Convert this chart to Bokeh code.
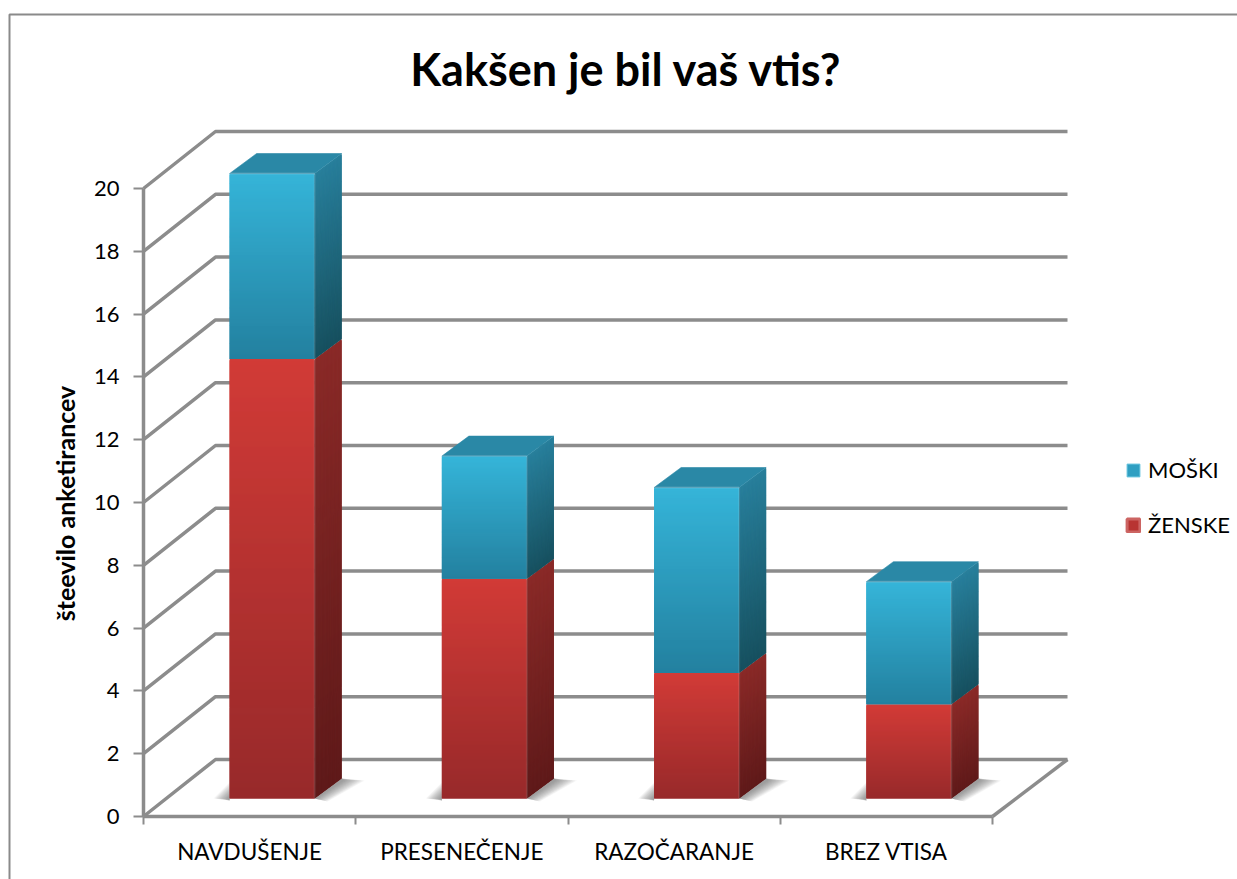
import numpy as np
from bokeh.core.properties import value
from bokeh.embed import file_html
from bokeh.resources import INLINE
from bokeh.plotting import figure
from bokeh.models import FixedTicker, Legend, LegendItem, ColumnDataSource

# ---- data
categories = ["NAVDUŠENJE", "PRESENEČENJE", "RAZOČARANJE", "BREZ VTISA"]
zenske = [14, 7, 4, 3]
moski = [6, 4, 6, 4]
y_ticks = list(range(0, 21, 2))
title_text = "Kakšen je bil vaš vtis?"
y_title = "šteevilo anketirancev"

# ---- layout / 3-D style constants
W, H = 1237, 879
X0, Y0 = 143, 816      # pixel of the data origin
PX_X = 212.25          # px per category
PX_Y = 31.4            # px per unit
def dx(px): return px / PX_X
def dy(px): return px / PX_Y
def fx(px): return (px - X0) / PX_X
def fy(px): return (Y0 - px) / PX_Y

WALL_DX, WALL_DY = dx(72), dy(57)
WALL_END = dx(924)
BAR_W = dx(85)
BAR_SHIFT = dx(22.5)
BAR_BASE = dy(18)
TOP_INSET = dy(3)      # the bevelled top sits slightly below the nominal height
SIDE_DX, SIDE_DY = dx(27), dy(20)
GRID = "#8c8c8c"
FONT = "Lato"

def ramp(c0, c1, n):
    a, b = np.array(c0), np.array(c1)
    return ["#%02x%02x%02x" % tuple(int(round(v)) for v in a + (b - a) * t) for t in np.linspace(0, 1, n)]

BLUE_F = ((53, 180, 216), (35, 128, 159))
RED_F = ((209, 59, 55), (151, 41, 42))
BLUE_S = ((40, 127, 155), (23, 80, 95))
RED_S = ((138, 42, 40), (95, 26, 26))
BLUE_T = "#2a88a6"

p = figure(width=W, height=H, output_backend="svg", toolbar_location=None,
           x_range=(fx(0), fx(W)), y_range=(fy(H), fy(0)),
           min_border=0, background_fill_color="white", border_fill_color="white")
p.outline_line_color = None
p.grid.visible = False

xax, yax = p.xaxis[0], p.yaxis[0]
xax.fixed_location = 0
yax.fixed_location = 0
xax.bounds = (0, 4)
yax.bounds = (0, 20)
xax.ticker = FixedTicker(ticks=[i + 0.5 for i in range(4)], minor_ticks=list(range(5)))
xax.major_label_overrides = {i + 0.5: c for i, c in enumerate(categories)}
xax.major_tick_line_color = None
xax.minor_tick_line_color = GRID
xax.minor_tick_line_width = 2
xax.minor_tick_out = 8
xax.minor_tick_in = 0
yax.ticker = FixedTicker(ticks=y_ticks)
yax.minor_tick_line_color = None
yax.major_tick_line_color = GRID
yax.major_tick_line_width = 2
yax.major_tick_out = 10
yax.major_tick_in = 0
for ax in (xax, yax):
    ax.axis_line_color = GRID
    ax.axis_line_width = 3.5
    ax.major_label_text_font = FONT
    ax.major_label_text_color = "#000000"
xax.major_label_text_font_size = "22.5px"
yax.major_label_text_font_size = "22px"
xax.major_label_standoff = 13
yax.major_label_standoff = 14

# chart border (only top and left fall inside the window)
p.line([fx(9), fx(9), fx(W)], [fy(H), fy(14), fy(14)], line_color="#8a8a8a", line_width=2)

# title and y-axis title
p.text([fx(626)], [fy(68)], text=[title_text], text_font=value(FONT), text_font_size="45px",
       text_font_style="bold", text_color="#000000", text_align="center", text_baseline="alphabetic")
p.text([fx(64)], [fy(503)], text=[y_title], text_font=value(FONT), text_font_size="25px", angle=np.pi / 2,
       text_font_style="bold", text_color="#000000", text_align="center", text_baseline="alphabetic")

# back wall + side wall gridlines
xs, ys = [], []
for v in y_ticks:
    xs.append([0, WALL_DX, WALL_END])
    ys.append([v, v + WALL_DY, v + WALL_DY])
p.multi_line(xs, ys, line_color=GRID, line_width=3.5)
p.line([4, WALL_END], [0, WALL_DY], line_color=GRID, line_width=3.5)

# floor shadows: many faint layers give a soft edge
for g in np.linspace(1.0, 0.1, 14):
    sx, sy = [], []
    for i in range(4):
        c = i + 0.5 + BAR_SHIFT
        l, r = c - BAR_W / 2, c + BAR_W / 2
        sx.append([r, r + SIDE_DX, r + SIDE_DX + dx(23) * g, r + dx(13) * g])
        sy.append([BAR_BASE, BAR_BASE + SIDE_DY, BAR_BASE + SIDE_DY - dy(2), BAR_BASE - dy(3) * g])
        sx.append([l, l - dx(16) * g, l])
        sy.append([BAR_BASE + dy(16) * g, BAR_BASE, BAR_BASE - dy(2)])
    p.patches(sx, sy, fill_color="#4a4a4a", fill_alpha=0.05, line_color=None)

# bars: stacked, front + side faces built as gradient slices, top cap
for i in range(4):
    c = i + 0.5 + BAR_SHIFT
    l, r = c - BAR_W / 2, c + BAR_W / 2
    segments = ((0, zenske[i], RED_F, RED_S, 0), (zenske[i], zenske[i] + moski[i], BLUE_F, BLUE_S, TOP_INSET))
    for lo, hi, fc, sc, inset in segments:
        N = int((hi - lo) * PX_Y)
        edges = np.linspace(hi - inset, lo, N + 1) + BAR_BASE
        low = np.maximum(edges[1:] - dy(1.5), lo + BAR_BASE)
        cf = ramp(fc[0], fc[1], N)
        cs = ramp(sc[0], sc[1], N)
        # drawn bottom-up so that every slice overlaps the one below it
        p.quad(left=[l] * N, right=[r] * N, top=list(edges[:-1][::-1]),
               bottom=list(low[::-1]), fill_color=cf[::-1], line_color=None)
        p.patches([[r, r + SIDE_DX, r + SIDE_DX, r]] * N,
                  [[low[k], low[k] + SIDE_DY, edges[k] + SIDE_DY, edges[k]] for k in range(N - 1, -1, -1)],
                  fill_color=cs[::-1], line_color=None)
    t = zenske[i] + moski[i] + BAR_BASE - TOP_INSET
    p.patch([l, l + SIDE_DX, r + SIDE_DX, r], [t, t + SIDE_DY, t + SIDE_DY, t],
            fill_color=BLUE_T, line_color=BLUE_T, line_width=0.6)
    # soft bevel along the front edges
    p.line([r, r], [BAR_BASE, t], line_color="#ffffff", line_alpha=0.1, line_width=2)
    p.line([l, r], [t, t], line_color="#ffffff", line_alpha=0.16, line_width=2)

# legend
src = ColumnDataSource(dict(l=[np.nan], r=[np.nan], t=[np.nan], b=[np.nan]))
r_m = p.quad(left="l", right="r", top="t", bottom="b", source=src, fill_color="#2f9fc2", line_color="#5fc0dc")
r_z = p.quad(left="l", right="r", top="t", bottom="b", source=src, fill_color="#b83432", line_color="#cc6462",
             line_width=3)
leg = Legend(items=[LegendItem(label="MOŠKI", renderers=[r_m]), LegendItem(label="ŽENSKE", renderers=[r_z])],
             location=(1125, 341), orientation="vertical", border_line_color=None,
             background_fill_alpha=0, padding=0, margin=0, spacing=28,
             glyph_width=16, glyph_height=16, label_standoff=7,
             label_text_font=FONT, label_text_font_size="22px", label_text_color="#000000")
p.add_layout(leg)

open("out.html", "w").write(file_html(p, INLINE))
